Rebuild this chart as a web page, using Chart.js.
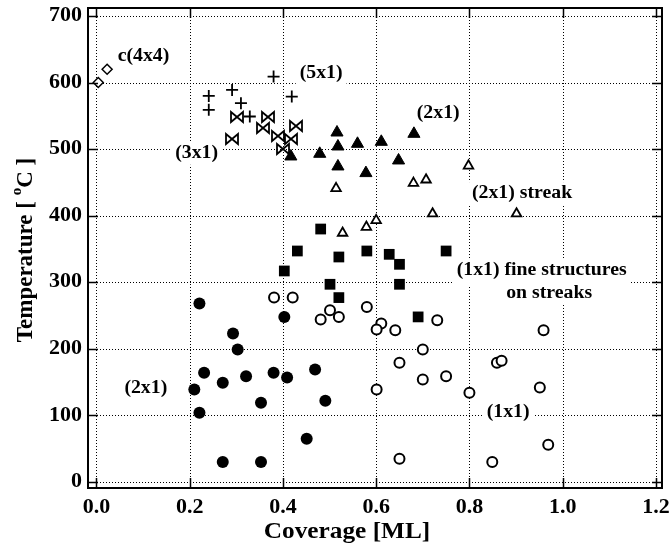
<!DOCTYPE html>
<html><head><meta charset="utf-8">
<script src="https://cdn.jsdelivr.net/npm/chart.js@4"></script>
<style>html,body{margin:0;padding:0;background:#fff}</style>
</head><body>
<canvas id="c" width="672" height="551"></canvas>
<script>
// ---- data ----
const xTicks = [0, 0.2, 0.4, 0.6, 0.8, 1.0, 1.2];
const yTicks = [0, 100, 200, 300, 400, 500, 600, 700];

const c4x4X = [0.004, 0.023];
const c4x4Y = [600, 620];

const s5x1X = [0.241, 0.241, 0.291, 0.310, 0.329, 0.380, 0.419];
const s5x1Y = [580, 559, 589, 569, 549, 609, 579];

const s3x1X = [0.301, 0.291, 0.358, 0.369, 0.389, 0.401, 0.417, 0.429];
const s3x1Y = [549, 515, 531, 549, 520, 500, 515, 535];

const s2x1HighX = [0.417, 0.479, 0.516, 0.518, 0.518, 0.560, 0.578, 0.611, 0.648, 0.681];
const s2x1HighY = [489, 493, 525, 504, 474, 508, 464, 511, 483, 523];

const streakX = [0.514, 0.528, 0.579, 0.600, 0.680, 0.707, 0.721, 0.798, 0.901];
const streakY = [441, 374, 383, 393, 449, 454, 403, 475, 403];

const fineX = [0.481, 0.431, 0.403, 0.520, 0.580, 0.628, 0.650, 0.501, 0.650, 0.520, 0.750, 0.690];
const fineY = [380, 347, 317, 338, 347, 342, 327, 297, 297, 277, 347, 248];

const s2x1LowX = [0.221, 0.293, 0.303, 0.231, 0.271, 0.210, 0.321, 0.380, 0.409, 0.469, 0.491, 0.353, 0.221, 0.451, 0.271, 0.353, 0.403];
const s2x1LowY = [268, 223, 199, 164, 149, 139, 159, 164, 157, 169, 122, 119, 104, 65, 30, 30, 248];

const s1x1X = [0.381, 0.421, 0.501, 0.481, 0.520, 0.580, 0.611, 0.601, 0.641, 0.731, 0.700, 0.959, 0.650, 0.859, 0.869, 0.700, 0.750, 0.601, 0.800, 0.951, 0.969, 0.650, 0.849];
const s1x1Y = [277, 277, 258, 244, 248, 263, 238, 229, 228, 243, 199, 228, 179, 179, 182, 154, 159, 139, 134, 142, 56, 35, 30];

const labelTexts = ['c(4x4)', '(5x1)', '(2x1)', '(3x1)', '(2x1) streak', '(1x1) fine structures', 'on streaks', '(1x1)', '(2x1)'];
const labelX = [0.101, 0.482, 0.733, 0.215, 0.913, 0.955, 0.971, 0.883, 0.106];
const labelY = [640, 614, 554, 493, 434, 318, 284, 104, 141];

// ---- helpers ----
const pts = (xs, ys) => xs.map((x, i) => ({x, y: ys[i]}));
const SERIF = '"Liberation Serif", "DejaVu Serif", serif';

function drawText(ctx, s, x, y, font, align, sx) {
  ctx.save();
  ctx.font = font; ctx.fillStyle = '#000';
  ctx.textBaseline = 'middle'; ctx.textAlign = align || 'center';
  ctx.translate(x, y); ctx.scale(sx || 1, 1);
  ctx.fillText(s, 0, 0);
  ctx.restore();
}

const ANN_FONT = 'bold 18px ' + SERIF;
const ANN_SX = 1.1;
const TICK_FONT = 'bold 20px ' + SERIF;
const TICK_SX = 1.1;

const framePlugin = {
  id: 'frame',
  beforeDatasetsDraw(chart) {
    const {ctx, chartArea: a, scales: {x, y}} = chart;
    ctx.save();
    ctx.strokeStyle = '#000'; ctx.lineWidth = 1; ctx.setLineDash([1, 2]);
    xTicks.forEach(v => { const p = Math.round(x.getPixelForValue(v)) + 0.5; ctx.beginPath(); ctx.moveTo(p, a.top); ctx.lineTo(p, a.bottom); ctx.stroke(); });
    yTicks.forEach(v => { const p = Math.round(y.getPixelForValue(v)) + 0.5; ctx.beginPath(); ctx.moveTo(a.left, p); ctx.lineTo(a.right, p); ctx.stroke(); });
    ctx.setLineDash([]);
    // white boxes behind annotation text
    ctx.fillStyle = '#fff';
    ctx.font = ANN_FONT;
    labelTexts.forEach((t, i) => {
      const w = ctx.measureText(t).width * ANN_SX;
      const cx = x.getPixelForValue(labelX[i]), cy = y.getPixelForValue(labelY[i]);
      const down = (t === '(1x1) fine structures') ? 16 : 11;
      ctx.fillRect(cx - w / 2 - 4, cy - 11, w + 8, 11 + down);
    });
    ctx.restore();
  },
  afterDatasetsDraw(chart) {
    const {ctx, chartArea: a, scales: {x, y}} = chart;
    ctx.save();
    // bow-tie markers for the (3x1) dataset, at the element positions computed by Chart.js
    chart.data.datasets.forEach((ds, di) => {
      if (!ds.bowtie) return;
      const meta = chart.getDatasetMeta(di);
      ctx.strokeStyle = '#000'; ctx.lineWidth = 1.8; ctx.lineJoin = 'miter';
      meta.data.forEach(el => {
        const px = Math.round(el.x), py = Math.round(el.y);
        ctx.beginPath();
        ctx.moveTo(px - 6, py - 5); ctx.lineTo(px + 6, py + 5); ctx.lineTo(px + 6, py - 5); ctx.lineTo(px - 6, py + 5); ctx.closePath();
        ctx.stroke();
      });
    });
    // annotations
    labelTexts.forEach((t, i) => drawText(ctx, t, x.getPixelForValue(labelX[i]), y.getPixelForValue(labelY[i]), ANN_FONT, 'center', ANN_SX));
    // frame
    ctx.strokeStyle = '#000'; ctx.lineWidth = 2;
    ctx.strokeRect(a.left, a.top, a.right - a.left, a.bottom - a.top);
    // inward tick marks
    ctx.lineWidth = 1.5;
    const L = 10;
    xTicks.forEach(v => { const p = Math.round(x.getPixelForValue(v)) + 0.5;
      ctx.beginPath(); ctx.moveTo(p, a.bottom); ctx.lineTo(p, a.bottom - L); ctx.moveTo(p, a.top); ctx.lineTo(p, a.top + L); ctx.stroke(); });
    yTicks.forEach(v => { const p = Math.round(y.getPixelForValue(v)) + 0.5;
      ctx.beginPath(); ctx.moveTo(a.left, p); ctx.lineTo(a.left + L, p); ctx.moveTo(a.right, p); ctx.lineTo(a.right - L, p); ctx.stroke(); });
    // tick labels (positions from the scales)
    xTicks.forEach(v => drawText(ctx, v.toFixed(1), x.getPixelForValue(v), a.bottom + 20, TICK_FONT, 'center', TICK_SX));
    yTicks.forEach(v => drawText(ctx, String(v), a.left - 6, y.getPixelForValue(v), TICK_FONT, 'right', TICK_SX));
    // axis titles
    drawText(ctx, 'Coverage [ML]', 347, 532, 'bold 23px ' + SERIF, 'center', 1.1);
    // y title with superscript
    ctx.translate(26, 250);
    ctx.rotate(-Math.PI / 2);
    const big = 'bold 23px ' + SERIF, small = 'bold 15px ' + SERIF;
    const parts = [['Temperature [ ', big, 0], ['o', small, -9], ['C ]', big, 0]];
    let tot = 0;
    parts.forEach(p => { ctx.font = p[1]; tot += ctx.measureText(p[0]).width; });
    let cx = -tot / 2;
    ctx.fillStyle = '#000'; ctx.textBaseline = 'middle'; ctx.textAlign = 'left';
    parts.forEach(p => { ctx.font = p[1]; ctx.fillText(p[0], cx, p[2]); cx += ctx.measureText(p[0]).width; });
    ctx.restore();
  }
};

new Chart(document.getElementById('c'), {
  type: 'scatter',
  data: {
    datasets: [
      {label: 'c(4x4)', data: pts(c4x4X, c4x4Y), pointStyle: 'rectRot', radius: 5, borderColor: '#000', backgroundColor: '#fff', borderWidth: 1.5},
      {label: '(5x1)', data: pts(s5x1X, s5x1Y), pointStyle: 'cross', radius: 6, borderColor: '#000', borderWidth: 1.8},
      {label: '(3x1)', data: pts(s3x1X, s3x1Y), bowtie: true, pointStyle: 'circle', radius: 0, borderWidth: 0},
      {label: '(2x1) high', data: pts(s2x1HighX, s2x1HighY), pointStyle: 'triangle', radius: 7, borderColor: '#000', backgroundColor: '#000', borderWidth: 1},
      {label: '(2x1) streak', data: pts(streakX, streakY), pointStyle: 'triangle', radius: 5.5, borderColor: '#000', backgroundColor: '#fff', borderWidth: 1.8},
      {label: '(1x1) fine structures', data: pts(fineX, fineY), pointStyle: 'rect', radius: 7.6, borderColor: '#000', backgroundColor: '#000', borderWidth: 0},
      {label: '(2x1) low', data: pts(s2x1LowX, s2x1LowY), pointStyle: 'circle', radius: 6, borderColor: '#000', backgroundColor: '#000', borderWidth: 0},
      {label: '(1x1)', data: pts(s1x1X, s1x1Y), pointStyle: 'circle', radius: 5, borderColor: '#000', backgroundColor: '#fff', borderWidth: 2}
    ]
  },
  options: {
    responsive: false,
    animation: false,
    devicePixelRatio: 1,
    layout: {padding: {top: 8, right: 10, left: 0, bottom: 0}},
    plugins: {legend: {display: false}, tooltip: {enabled: false}},
    scales: {
      x: {
        type: 'linear', min: -0.018, max: 1.213,
        afterBuildTicks: s => { s.ticks = xTicks.map(v => ({value: v})); },
        afterFit: s => { s.height = 63; },
        grid: {display: false}, border: {display: false},
        ticks: {display: false}
      },
      y: {
        type: 'linear', min: -9, max: 712,
        afterBuildTicks: s => { s.ticks = yTicks.map(v => ({value: v})); },
        afterFit: s => { s.width = 88; },
        grid: {display: false}, border: {display: false},
        ticks: {display: false}
      }
    }
  },
  plugins: [framePlugin]
});
</script>
</body></html>
